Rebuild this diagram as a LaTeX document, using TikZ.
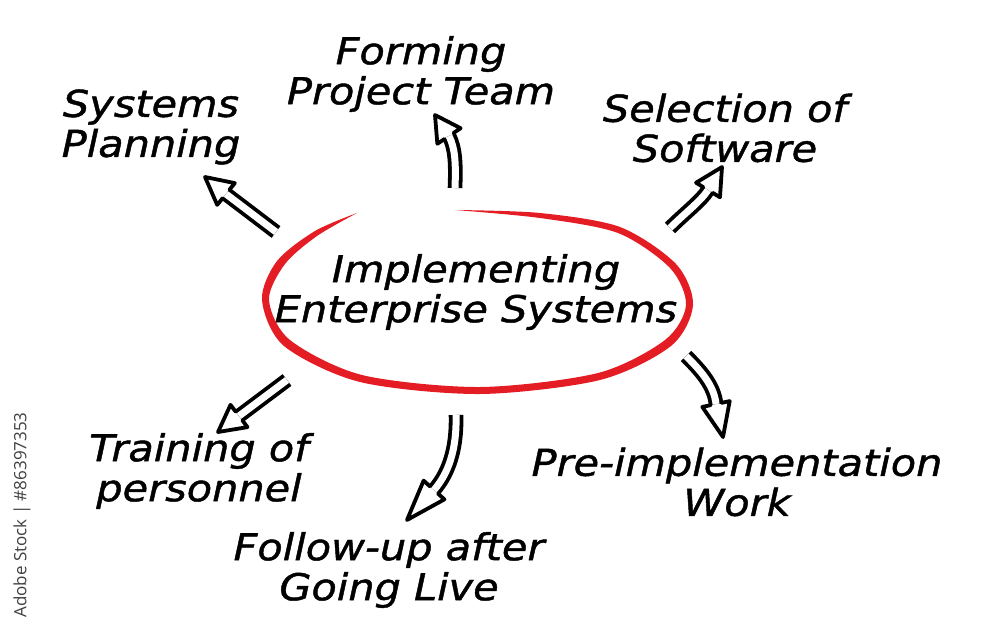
\documentclass[tikz,border=0pt]{standalone}
\usepackage{fontspec}
\newfontfamily\hand{DejaVu Sans}[FakeStretch=1.12,FakeBold=1.2]
\newfontfamily\wmfont{Open Sans}
\usetikzlibrary{calc}
\definecolor{ered}{RGB}{228,28,36}
\newcommand\hollowhead[2]{%
  \draw[headline] ($(#1)!5.4pt!90:(#2)$) -- ($(#1)!14pt!90:(#2)$) -- (#2)
    -- ($(#1)!14pt!-90:(#2)$) -- ($(#1)!5.4pt!-90:(#2)$);}
\begin{document}
\begin{tikzpicture}[x=1pt,y=-1pt,
  lbl/.style={font=\hand\itshape\fontsize{37}{40}\selectfont, align=center, text=black, inner sep=0pt},
  shaft/.style={draw=black, line width=3.8pt, double=white, double distance=7pt},
  headline/.style={draw=black, line width=3.8pt, line join=round, line cap=round}]
\fill[white] (0,0) rectangle (1000,634);
\useasboundingbox (0,0) rectangle (1000,634);

% red hand-drawn ellipse (tapered stroke)
\fill[ered] plot[smooth] coordinates {(455,210) (540,213) (620,227) (676,264) (693,305) (671,346) (600,380) (480,394) (360,382) (284,346) (262,300) (277,261) (315,231) (357,213)}
  -- plot[smooth] coordinates {(357,213) (317,236) (285,264) (269,300) (290,340) (362,375) (480,387) (598,373) (665,340) (686,305) (670,268) (618,233) (540,218) (455,210)} -- cycle;

% texts
\node[lbl] (center) at (476,292) {Implementing\\Enterprise Systems};
\node[lbl] (plan) at (151,127) {Systems\\Planning};
\node[lbl] (team) at (421,74) {Forming\\Project Team};
\node[lbl] (soft) at (725,128) {Selection of\\Software};
\node[lbl] (train) at (199,471) {Training of\\personnel};
\node[lbl] (follow) at (389,570) {Follow-up after\\Going Live};
\node[lbl] (pre) at (737,482) {Pre-implementation\\Work};
\node[rotate=90, font=\wmfont\fontsize{17}{17}\selectfont, text=black!75, inner sep=0pt] (wm) at (22,515) {Adobe Stock | \#86397353};

% arrow points
\coordinate (a1t) at (276,232); \coordinate (a1b) at (226,194); \coordinate (a1p) at (205,177);
\coordinate (a2t) at (455,188); \coordinate (a2b) at (449,136); \coordinate (a2p) at (435,115);
\coordinate (a3t) at (670,228); \coordinate (a3b) at (708,190); \coordinate (a3p) at (722,167);
\coordinate (a4t) at (287,380); \coordinate (a4b) at (239,416); \coordinate (a4p) at (218,432);
\coordinate (a5t) at (456,415); \coordinate (a5b) at (434,490); \coordinate (a5p) at (407,520);
\coordinate (a6t) at (686,356); \coordinate (a6b) at (716,404); \coordinate (a6p) at (723,437);

\draw[shaft] (a1t) -- (a1b); \hollowhead{a1b}{a1p}
\draw[shaft] (a2t) .. controls (456,162) and (455,148) .. (a2b); \hollowhead{a2b}{a2p}
\draw[shaft] (a3t) .. controls (685,213) and (701,201) .. (a3b); \hollowhead{a3b}{a3p}
\draw[shaft] (a4t) -- (a4b); \hollowhead{a4b}{a4p}
\draw[shaft] (a5t) .. controls (457,450) and (448,474) .. (a5b); \hollowhead{a5b}{a5p}
\draw[shaft] (a6t) .. controls (700,370) and (714,385) .. (a6b); \hollowhead{a6b}{a6p}
\end{tikzpicture}
\end{document}
